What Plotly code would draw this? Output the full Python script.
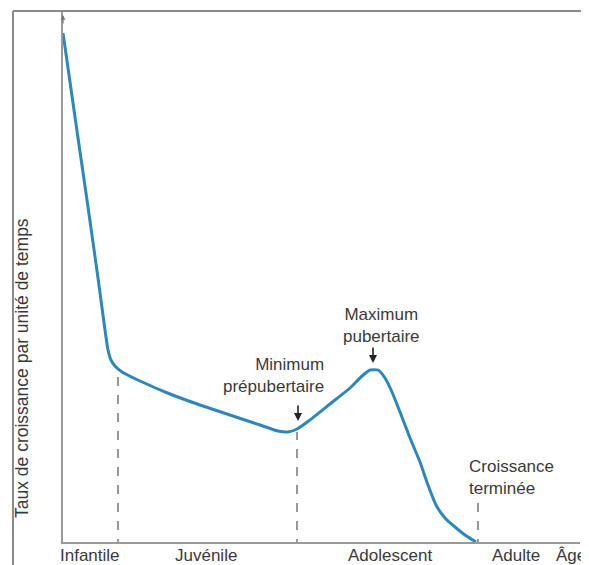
import plotly.graph_objects as go

# Growth-rate curve (age units along x, rate units along y)
age = [0, 12, 24, 35, 42, 45, 48, 52, 59, 77, 107, 137, 167, 197, 215, 225, 234,
       247, 267, 287, 299, 307, 315, 322, 329, 337, 347, 357, 365, 373, 382, 392, 402, 413]
rate = [509, 425, 342, 264, 212, 192, 182, 176, 170, 161, 148, 137, 127, 117, 111, 110, 113,
        122, 138, 154, 166, 172, 172, 164, 150, 130, 104, 80, 57, 37, 24, 15, 7, 0]

# Phase boundaries (dashed lines) and their top heights
boundary_age = [55, 234, 415]
boundary_top = [172, 110, 44]

# Phase labels and their centre ages
phase_labels = ["Infantile", "Juvénile", "Adolescent", "Adulte"]
phase_centers = [27, 143, 327, 453]

FONT = "Liberation Sans, Arial, Helvetica, sans-serif"
TXT = "#3a3a3a"
FS = 17
Y_MAX = 531
LABEL_Y = -13 / Y_MAX  # paper position just below the x axis

fig = go.Figure()
fig.add_trace(go.Scatter(x=age, y=rate, mode="lines",
                         line=dict(color="#2a88bf", width=3, shape="spline", smoothing=0.5),
                         hoverinfo="skip", showlegend=False))

shapes = []
for bx, bt in zip(boundary_age, boundary_top):
    shapes.append(dict(type="line", xref="x", yref="y", x0=bx, x1=bx, y0=-6, y1=bt,
                       line=dict(color="#555555", width=1.2, dash="dash")))
# frame lines (top and left border of the scanned figure)
shapes.append(dict(type="line", xref="paper", yref="paper", x0=-0.0967, x1=1.03, y0=1, y1=1,
                   line=dict(color="#8a8a8a", width=2)))
shapes.append(dict(type="line", xref="paper", yref="paper", x0=-0.0967, x1=-0.0967, y0=1, y1=-0.06,
                   line=dict(color="#8a8a8a", width=2)))

ann = []
for lab, cx in zip(phase_labels, phase_centers):
    ann.append(dict(x=cx, y=LABEL_Y, xref="x", yref="paper", text=lab, showarrow=False,
                    xanchor="center", yanchor="middle", font=dict(size=FS, color=TXT, family=FONT)))
ann.append(dict(x=1.0155, y=LABEL_Y, xref="paper", yref="paper", text="Âge", showarrow=False,
                xanchor="right", yanchor="middle", font=dict(size=FS, color=TXT, family=FONT)))

ann.append(dict(x=263, y=166.5, xref="x", yref="y", text="Minimum<br>prépubertaire",
                showarrow=False, xanchor="right", yanchor="middle", align="right",
                font=dict(size=FS, color=TXT, family=FONT)))
ann.append(dict(x=235, y=121, xref="x", yref="y", text="", showarrow=True, ax=0, ay=-17,
                arrowhead=2, arrowsize=1, arrowwidth=1.6, arrowcolor="#222"))
ann.append(dict(x=318, y=217, xref="x", yref="y", text="Maximum<br>pubertaire",
                showarrow=False, xanchor="center", yanchor="middle", align="center",
                font=dict(size=FS, color=TXT, family=FONT)))
ann.append(dict(x=310, y=179, xref="x", yref="y", text="", showarrow=True, ax=0, ay=-17,
                arrowhead=2, arrowsize=1, arrowwidth=1.6, arrowcolor="#222"))
ann.append(dict(x=404, y=64.5, xref="x", yref="y", text="Croissance<br>terminée",
                showarrow=False, xanchor="left", yanchor="middle", align="left",
                font=dict(size=FS, color=TXT, family=FONT)))

# axis arrows
ann.append(dict(x=519, y=0, xref="x", yref="y", text="", showarrow=True, ax=-10, ay=0,
                arrowhead=2, arrowsize=0.8, arrowwidth=1.2, arrowcolor="#777"))
ann.append(dict(x=0, y=527, xref="x", yref="y", text="", showarrow=True, ax=0, ay=10,
                arrowhead=2, arrowsize=0.8, arrowwidth=1.2, arrowcolor="#777"))

# y-axis title
ann.append(dict(x=-0.0793, y=174, xref="paper", yref="y", text="Taux de croissance par unité de temps",
                showarrow=False, textangle=-90, xanchor="center", yanchor="middle",
                font=dict(size=17.5, color=TXT, family=FONT)))

# The page body adds an 8px margin, so the figure is sized and offset to compensate
fig.update_layout(
    width=581, height=557,
    margin=dict(l=55, r=9, t=3, b=23),
    paper_bgcolor="white", plot_bgcolor="white",
    shapes=shapes, annotations=ann,
    xaxis=dict(range=[0, 517], showgrid=False, zeroline=False, showticklabels=False,
               ticks="", showline=True, linecolor="#999", linewidth=1.5),
    yaxis=dict(range=[0, Y_MAX], showgrid=False, zeroline=False, showticklabels=False,
               ticks="", showline=True, linecolor="#999", linewidth=1.5),
)

fig.write_html("out.html")
